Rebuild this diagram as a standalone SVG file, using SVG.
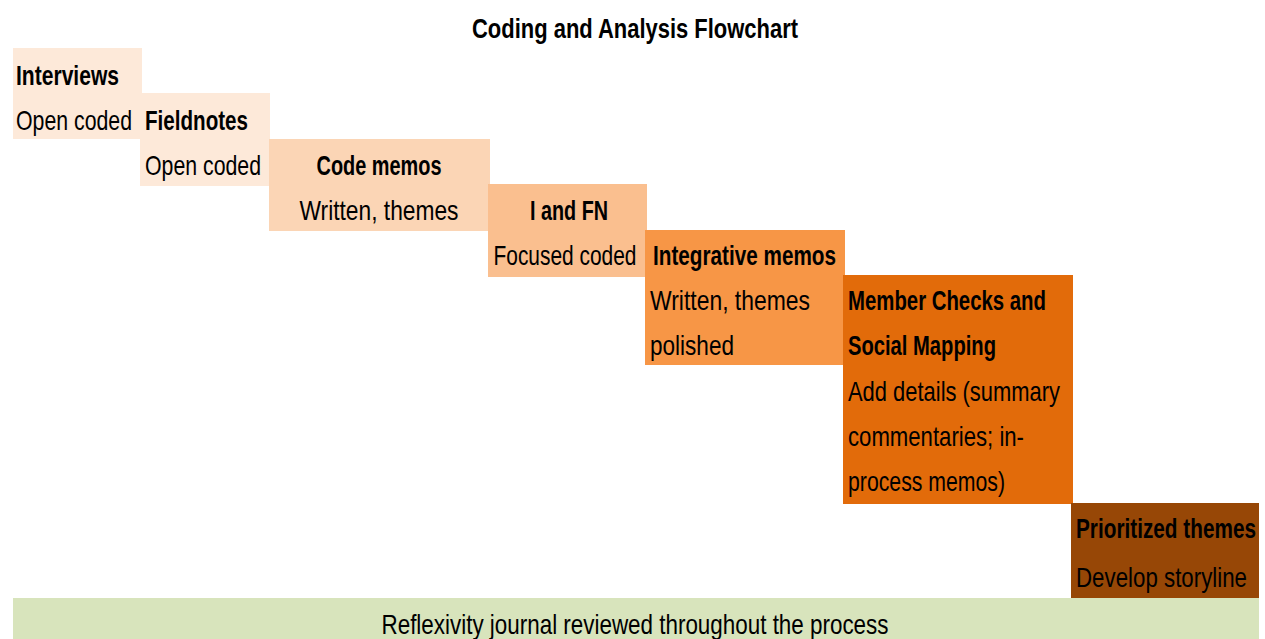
<svg xmlns="http://www.w3.org/2000/svg" width="1265" height="639" viewBox="0 0 1265 639">
<style>
text{font-family:"Liberation Sans",Arial,sans-serif;font-size:28px;fill:#000}
.b{font-weight:bold}
.c{text-anchor:middle}
</style>
<rect width="1265" height="639" fill="#fff"/>
<text class="b c" x="635" y="38" textLength="326" lengthAdjust="spacingAndGlyphs">Coding and Analysis Flowchart</text>
<g id="interviews">
<rect x="13" y="48" width="129" height="91" fill="#FDE9D9"/>
<text class="b" x="16" y="85" textLength="103" lengthAdjust="spacingAndGlyphs">Interviews</text>
<text x="16" y="130" textLength="116" lengthAdjust="spacingAndGlyphs">Open coded</text>
</g>
<g id="fieldnotes">
<rect x="140" y="93" width="130" height="93" fill="#FDE9D9"/>
<text class="b" x="145" y="130" textLength="103" lengthAdjust="spacingAndGlyphs">Fieldnotes</text>
<text x="145" y="175" textLength="116" lengthAdjust="spacingAndGlyphs">Open coded</text>
</g>
<g id="codememos">
<rect x="269" y="139" width="221" height="92" fill="#FBD5B5"/>
<text class="b c" x="379" y="175" textLength="125" lengthAdjust="spacingAndGlyphs">Code memos</text>
<text class="c" x="379" y="220" textLength="159" lengthAdjust="spacingAndGlyphs">Written, themes</text>
</g>
<g id="iandfn">
<rect x="488" y="184" width="159" height="93" fill="#FABF8F"/>
<text class="b c" x="569" y="220" textLength="78" lengthAdjust="spacingAndGlyphs">I and FN</text>
<text class="c" x="565" y="265" textLength="143" lengthAdjust="spacingAndGlyphs">Focused coded</text>
</g>
<g id="integrative">
<rect x="645" y="230" width="200" height="135" fill="#F79646"/>
<text class="b" x="653" y="265" textLength="183" lengthAdjust="spacingAndGlyphs">Integrative memos</text>
<text x="650" y="310" textLength="160" lengthAdjust="spacingAndGlyphs">Written, themes</text>
<text x="650" y="355" textLength="84" lengthAdjust="spacingAndGlyphs">polished</text>
</g>
<g id="member">
<rect x="843" y="275" width="230" height="229" fill="#E26B0A"/>
<text class="b" x="848" y="310" textLength="198" lengthAdjust="spacingAndGlyphs">Member Checks and</text>
<text class="b" x="848" y="355" textLength="148" lengthAdjust="spacingAndGlyphs">Social Mapping</text>
<text x="848" y="401" textLength="212" lengthAdjust="spacingAndGlyphs">Add details (summary</text>
<text x="848" y="446" textLength="176" lengthAdjust="spacingAndGlyphs">commentaries; in-</text>
<text x="848" y="491" textLength="157" lengthAdjust="spacingAndGlyphs">process memos)</text>
</g>
<g id="prioritized">
<rect x="1071" y="503" width="188" height="95" fill="#974706"/>
<text class="b" x="1076" y="538" textLength="180" lengthAdjust="spacingAndGlyphs">Prioritized themes</text>
<text x="1076" y="587" textLength="171" lengthAdjust="spacingAndGlyphs">Develop storyline</text>
</g>
<g id="reflexivity">
<rect x="13" y="598" width="1246" height="41" fill="#D8E4BC"/>
<text class="c" x="635" y="634" textLength="507" lengthAdjust="spacingAndGlyphs">Reflexivity journal reviewed throughout the process</text>
</g>
<g id="connectors"></g>
</svg>
